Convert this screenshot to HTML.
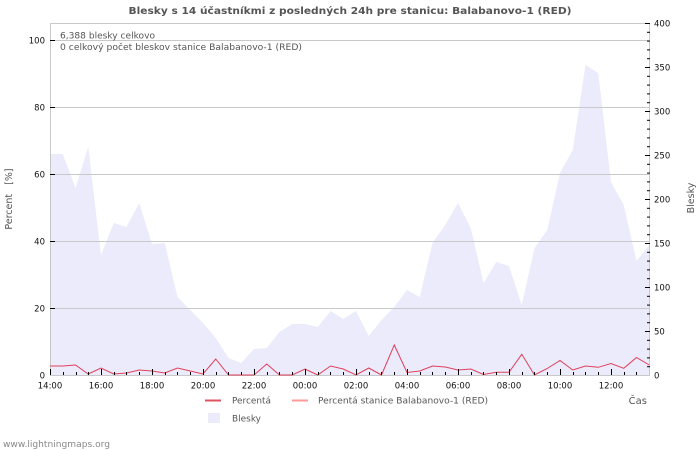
<!DOCTYPE html>
<html>
<head>
<meta charset="utf-8">
<style>
html,body{margin:0;padding:0;background:#fff;}
svg{display:block;}
text{font-family:"DejaVu Sans","Liberation Sans",sans-serif;}
</style>
</head>
<body>
<svg width="700" height="450" viewBox="0 0 700 450" xmlns="http://www.w3.org/2000/svg">
<rect x="0" y="0" width="700" height="450" fill="#fff"/>
<!-- title -->
<text x="350" y="14" text-anchor="middle" font-size="10" font-weight="bold" fill="#555" textLength="443" lengthAdjust="spacingAndGlyphs">Blesky s 14 účastníkmi z posledných 24h pre stanicu: Balabanovo-1 (RED)</text>

<!-- area -->
<polygon fill="#ebebfc" points="50,375 50,154 62.75,154 75.5,188 88.25,147 101,255 113.75,223 126.5,227 139.25,203 152,244 164.75,243 177.5,297 190.25,310 203,323 215.75,338 228.5,358 241.25,363 254,349 266.75,348 279.5,332 292.25,324 305,324 317.75,327 330.5,311 343.25,319 356,311 368.75,336 381.5,320 394.25,307 407,290 419.75,297 432.5,243 445.25,225 458,203 470.75,228 483.5,283 496.25,262 509,266 521.75,305 534.5,248 547.25,230 560,173 572.75,150 585.5,65 598.25,73 611,182 623.75,205 636.5,261 649.25,245 649.25,375"/>

<!-- grid -->
<g stroke="#c8c8c8" stroke-width="1">
<line x1="50" y1="40.5" x2="649" y2="40.5"/>
<line x1="50" y1="107.5" x2="649" y2="107.5"/>
<line x1="50" y1="174.5" x2="649" y2="174.5"/>
<line x1="50" y1="241.5" x2="649" y2="241.5"/>
<line x1="50" y1="308.5" x2="649" y2="308.5"/>
<line x1="50" y1="23.5" x2="650" y2="23.5"/>
<line x1="50.5" y1="23" x2="50.5" y2="375"/>
<line x1="649.5" y1="23" x2="649.5" y2="375"/>
<line x1="50" y1="375.5" x2="650" y2="375.5"/>
</g>

<!-- red line -->
<polyline fill="none" stroke="#e0405a" stroke-width="1" points="50,366 62.75,366 75.5,365 88.25,374 101,368 113.75,374 126.5,373 139.25,370 152,371 164.75,373 177.5,368 190.25,371 203,374 215.75,359 228.5,375 241.25,375 254,375 266.75,364 279.5,375 292.25,375 305,369 317.75,375 330.5,366 343.25,369 356,375 368.75,368 381.5,375 394.25,345 407,372.5 419.75,371 432.5,366 445.25,367 458,370 470.75,369 483.5,374.5 496.25,372.3 509,372.3 521.75,354.3 534.5,375 547.25,368.5 560,360.5 572.75,370 585.5,366 598.25,367.3 611,363.5 623.75,368.3 636.5,357.5 649.25,365"/>

<!-- left ticks -->
<g stroke="#000" stroke-width="1">
<line x1="50" y1="40.5" x2="55" y2="40.5"/>
<line x1="50" y1="107.5" x2="55" y2="107.5"/>
<line x1="50" y1="174.5" x2="55" y2="174.5"/>
<line x1="50" y1="241.5" x2="55" y2="241.5"/>
<line x1="50" y1="308.5" x2="55" y2="308.5"/>
</g>
<g font-size="8.5" fill="#111" text-anchor="end">
<text x="45" y="43.5">100</text>
<text x="45" y="110.5">80</text>
<text x="45" y="177.5">60</text>
<text x="45" y="244.5">40</text>
<text x="45" y="311.5">20</text>
<text x="45" y="378.5">0</text>
</g>

<!-- right ticks -->
<g stroke="#000" stroke-width="1">
<line x1="645" y1="23.5" x2="650" y2="23.5"/>
<line x1="647" y1="32.3" x2="650" y2="32.3"/>
<line x1="647" y1="41.1" x2="650" y2="41.1"/>
<line x1="647" y1="49.9" x2="650" y2="49.9"/>
<line x1="647" y1="58.7" x2="650" y2="58.7"/>
<line x1="645" y1="67.5" x2="650" y2="67.5"/>
<line x1="647" y1="76.3" x2="650" y2="76.3"/>
<line x1="647" y1="85.1" x2="650" y2="85.1"/>
<line x1="647" y1="93.9" x2="650" y2="93.9"/>
<line x1="647" y1="102.7" x2="650" y2="102.7"/>
<line x1="645" y1="111.5" x2="650" y2="111.5"/>
<line x1="647" y1="120.3" x2="650" y2="120.3"/>
<line x1="647" y1="129.1" x2="650" y2="129.1"/>
<line x1="647" y1="137.9" x2="650" y2="137.9"/>
<line x1="647" y1="146.7" x2="650" y2="146.7"/>
<line x1="645" y1="155.5" x2="650" y2="155.5"/>
<line x1="647" y1="164.3" x2="650" y2="164.3"/>
<line x1="647" y1="173.1" x2="650" y2="173.1"/>
<line x1="647" y1="181.9" x2="650" y2="181.9"/>
<line x1="647" y1="190.7" x2="650" y2="190.7"/>
<line x1="645" y1="199.5" x2="650" y2="199.5"/>
<line x1="647" y1="208.3" x2="650" y2="208.3"/>
<line x1="647" y1="217.1" x2="650" y2="217.1"/>
<line x1="647" y1="225.9" x2="650" y2="225.9"/>
<line x1="647" y1="234.7" x2="650" y2="234.7"/>
<line x1="645" y1="243.5" x2="650" y2="243.5"/>
<line x1="647" y1="252.3" x2="650" y2="252.3"/>
<line x1="647" y1="261.1" x2="650" y2="261.1"/>
<line x1="647" y1="269.9" x2="650" y2="269.9"/>
<line x1="647" y1="278.7" x2="650" y2="278.7"/>
<line x1="645" y1="287.5" x2="650" y2="287.5"/>
<line x1="647" y1="296.3" x2="650" y2="296.3"/>
<line x1="647" y1="305.1" x2="650" y2="305.1"/>
<line x1="647" y1="313.9" x2="650" y2="313.9"/>
<line x1="647" y1="322.7" x2="650" y2="322.7"/>
<line x1="645" y1="331.5" x2="650" y2="331.5"/>
<line x1="647" y1="340.3" x2="650" y2="340.3"/>
<line x1="647" y1="349.1" x2="650" y2="349.1"/>
<line x1="647" y1="357.9" x2="650" y2="357.9"/>
<line x1="647" y1="366.7" x2="650" y2="366.7"/>
</g>
<g font-size="8.5" fill="#111">
<text x="654" y="26.5">400</text>
<text x="654" y="70.5">350</text>
<text x="654" y="114.5">300</text>
<text x="654" y="158.5">250</text>
<text x="654" y="202.5">200</text>
<text x="654" y="246.5">150</text>
<text x="654" y="290.5">100</text>
<text x="654" y="334.5">50</text>
<text x="654" y="378.5">0</text>
</g>

<!-- bottom ticks -->
<g stroke="#000" stroke-width="1" shape-rendering="crispEdges">
<line x1="50.5" y1="369" x2="50.5" y2="375"/>
<line x1="63.5" y1="372" x2="63.5" y2="375"/>
<line x1="76.5" y1="372" x2="76.5" y2="375"/>
<line x1="88.5" y1="372" x2="88.5" y2="375"/>
<line x1="101.5" y1="369" x2="101.5" y2="375"/>
<line x1="114.5" y1="372" x2="114.5" y2="375"/>
<line x1="126.5" y1="372" x2="126.5" y2="375"/>
<line x1="139.5" y1="372" x2="139.5" y2="375"/>
<line x1="152.5" y1="369" x2="152.5" y2="375"/>
<line x1="165.5" y1="372" x2="165.5" y2="375"/>
<line x1="177.5" y1="372" x2="177.5" y2="375"/>
<line x1="190.5" y1="372" x2="190.5" y2="375"/>
<line x1="203.5" y1="369" x2="203.5" y2="375"/>
<line x1="216.5" y1="372" x2="216.5" y2="375"/>
<line x1="228.5" y1="372" x2="228.5" y2="375"/>
<line x1="241.5" y1="372" x2="241.5" y2="375"/>
<line x1="254.5" y1="369" x2="254.5" y2="375"/>
<line x1="267.5" y1="372" x2="267.5" y2="375"/>
<line x1="279.5" y1="372" x2="279.5" y2="375"/>
<line x1="292.5" y1="372" x2="292.5" y2="375"/>
<line x1="305.5" y1="369" x2="305.5" y2="375"/>
<line x1="318.5" y1="372" x2="318.5" y2="375"/>
<line x1="330.5" y1="372" x2="330.5" y2="375"/>
<line x1="343.5" y1="372" x2="343.5" y2="375"/>
<line x1="356.5" y1="369" x2="356.5" y2="375"/>
<line x1="369.5" y1="372" x2="369.5" y2="375"/>
<line x1="381.5" y1="372" x2="381.5" y2="375"/>
<line x1="394.5" y1="372" x2="394.5" y2="375"/>
<line x1="407.5" y1="369" x2="407.5" y2="375"/>
<line x1="420.5" y1="372" x2="420.5" y2="375"/>
<line x1="432.5" y1="372" x2="432.5" y2="375"/>
<line x1="445.5" y1="372" x2="445.5" y2="375"/>
<line x1="458.5" y1="369" x2="458.5" y2="375"/>
<line x1="471.5" y1="372" x2="471.5" y2="375"/>
<line x1="483.5" y1="372" x2="483.5" y2="375"/>
<line x1="496.5" y1="372" x2="496.5" y2="375"/>
<line x1="509.5" y1="369" x2="509.5" y2="375"/>
<line x1="522.5" y1="372" x2="522.5" y2="375"/>
<line x1="534.5" y1="372" x2="534.5" y2="375"/>
<line x1="547.5" y1="372" x2="547.5" y2="375"/>
<line x1="560.5" y1="369" x2="560.5" y2="375"/>
<line x1="573.5" y1="372" x2="573.5" y2="375"/>
<line x1="585.5" y1="372" x2="585.5" y2="375"/>
<line x1="598.5" y1="372" x2="598.5" y2="375"/>
<line x1="611.5" y1="369" x2="611.5" y2="375"/>
<line x1="624.5" y1="372" x2="624.5" y2="375"/>
<line x1="636.5" y1="372" x2="636.5" y2="375"/>
</g>
<g font-size="8.5" fill="#111" text-anchor="middle">
<text x="50" y="388.5">14:00</text>
<text x="101" y="388.5">16:00</text>
<text x="152" y="388.5">18:00</text>
<text x="203" y="388.5">20:00</text>
<text x="254" y="388.5">22:00</text>
<text x="305" y="388.5">00:00</text>
<text x="356" y="388.5">02:00</text>
<text x="407" y="388.5">04:00</text>
<text x="458" y="388.5">06:00</text>
<text x="509" y="388.5">08:00</text>
<text x="560" y="388.5">10:00</text>
<text x="611" y="388.5">12:00</text>
</g>

<!-- info text -->
<text x="60" y="38.3" font-size="8.5" fill="#555" textLength="95" lengthAdjust="spacingAndGlyphs">6,388 blesky celkovo</text>
<text x="60" y="50" font-size="8.5" fill="#555" textLength="242" lengthAdjust="spacingAndGlyphs">0 celkový počet bleskov stanice Balabanovo-1 (RED)</text>

<!-- axis titles -->
<text transform="translate(12,199) rotate(-90)" text-anchor="middle" font-size="9.5" fill="#555" xml:space="preserve">Percent   [%]</text>
<text transform="translate(694,198) rotate(-90)" text-anchor="middle" font-size="9.5" fill="#555">Blesky</text>
<text x="647" y="404" text-anchor="end" font-size="10" fill="#555">Čas</text>

<!-- legend -->
<line x1="205" y1="400.5" x2="221" y2="400.5" stroke="#e05060" stroke-width="2"/>
<text x="232" y="403.5" font-size="8.5" fill="#555" textLength="39" lengthAdjust="spacingAndGlyphs">Percentá</text>
<line x1="292" y1="400.5" x2="308" y2="400.5" stroke="#ff9a9a" stroke-width="2"/>
<text x="318" y="403.5" font-size="8.5" fill="#555" textLength="170" lengthAdjust="spacingAndGlyphs">Percentá stanice Balabanovo-1 (RED)</text>
<rect x="208" y="413" width="12" height="10" fill="#ebebfc"/>
<text x="232" y="421.5" font-size="8.5" fill="#555" textLength="29" lengthAdjust="spacingAndGlyphs">Blesky</text>

<text x="3" y="447" font-size="8.5" fill="#888" textLength="107" lengthAdjust="spacingAndGlyphs">www.lightningmaps.org</text>
</svg>
</body>
</html>
